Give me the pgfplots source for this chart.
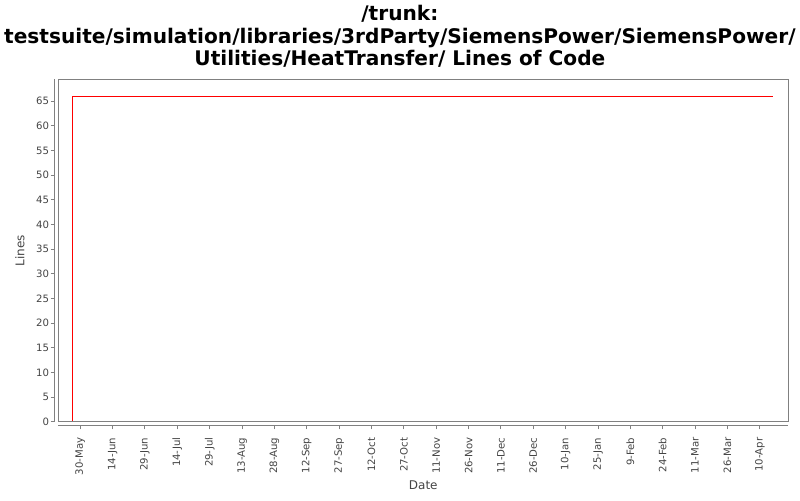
\documentclass[border=0pt]{standalone}
\usepackage{pgfplots}
\pgfplotsset{compat=1.18}
\usepackage{fontspec}
\setmainfont{DejaVu Sans}
\definecolor{framegray}{HTML}{808080}
\definecolor{txt}{HTML}{444444}

\begin{document}
\begin{tikzpicture}
\useasboundingbox (-43.7pt,-58.7pt) rectangle (556.3pt,316.3pt);
\begin{axis}[
    at={(0pt,0pt)}, anchor=south west,
    width=547.5pt, height=256.8pt, scale only axis,
    xmin=-10.2, xmax=328.2, ymin=0, ymax=69.4,
    axis lines*=left,
    axis line shift=2.7pt,
    axis line style={framegray, line width=0.9pt},
    tick align=outside,
    major tick length=3pt,
    tick style={framegray, line width=0.75pt},
    xtick={0,15,...,315},
    xticklabels={30-May,14-Jun,29-Jun,14-Jul,29-Jul,13-Aug,28-Aug,12-Sep,27-Sep,12-Oct,27-Oct,11-Nov,26-Nov,11-Dec,26-Dec,10-Jan,25-Jan,9-Feb,24-Feb,11-Mar,26-Mar,10-Apr},
    ytick={0,5,...,65},
    /pgf/number format/assume math mode=true,
    x tick label style={rotate=90, anchor=east, font=\fontsize{7.6}{9}\selectfont, text=txt, inner sep=6pt},
    y tick label style={font=\fontsize{7.6}{9}\selectfont, text=txt, inner sep=1pt},
    xlabel={Date},
    ylabel={Lines},
    xlabel style={at={(axis description cs:0.5,-0.185)}, anchor=center, font=\fontsize{9}{11}\selectfont, text=txt},
    ylabel style={at={(axis description cs:-0.0525,0.5)}, anchor=center, rotate=0, font=\fontsize{9}{11}\selectfont, text=txt},
    title={/trunk:\\testsuite/simulation/libraries/3rdParty/SiemensPower/SiemensPower/\\Utilities/HeatTransfer/ Lines of Code},
    title style={at={(axis description cs:0.468,1.2228)}, anchor=north, yshift=-7.2pt, align=center, inner sep=0pt, font=\bfseries\fontsize{15.1}{17.1}\selectfont},
    clip=false,
    after end axis/.code={
        \draw[framegray, line width=0.9pt] (rel axis cs:0,0) rectangle (rel axis cs:1,1);
    },
]
\addplot[red, line width=0.8pt] coordinates {
    (-3.7, 0)
    (-3.7, 66)
    (321.2, 66)
};
\end{axis}
\end{tikzpicture}
\end{document}
